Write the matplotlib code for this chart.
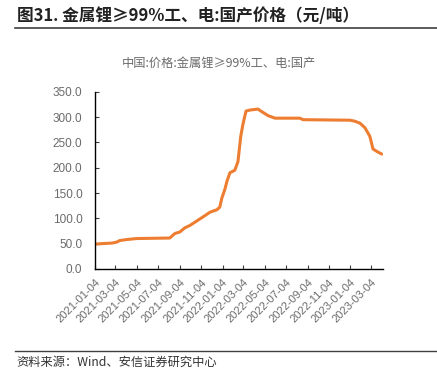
import matplotlib
matplotlib.use("Agg")
import matplotlib.pyplot as plt
import pandas as pd

plt.rcParams['font.family'] = ['Noto Sans CJK SC', 'DejaVu Sans']
num_font = ['Liberation Sans', 'Noto Sans CJK SC']

# price of lithium metal (10k yuan / t)
dates = ["2021-01-04", "2021-01-27", "2021-02-22", "2021-03-08", "2021-03-16",
         "2021-04-05", "2021-05-04", "2021-08-06", "2021-08-21", "2021-09-04",
         "2021-09-18", "2021-10-03", "2021-10-23", "2021-11-14", "2021-11-29",
         "2021-12-19", "2021-12-27", "2022-01-02", "2022-01-11", "2022-01-16",
         "2022-01-25", "2022-02-08", "2022-02-17", "2022-02-25", "2022-03-03",
         "2022-03-12", "2022-03-23", "2022-04-15", "2022-04-26", "2022-05-14",
         "2022-06-03", "2022-08-13", "2022-08-22", "2023-01-03", "2023-01-17",
         "2023-02-01", "2023-02-15", "2023-03-01", "2023-03-10", "2023-03-24",
         "2023-04-04"]
prices = [49, 50, 51, 53, 56,
          58, 60, 61, 70, 73,
          81, 86, 95, 105, 112,
          117, 122, 140, 158, 172,
          190, 195, 212, 262, 285,
          312, 314, 316, 311, 303,
          298, 298, 295, 294, 292,
          288, 279, 262, 237, 231,
          227]
tick_labels = ["2021-01-04", "2021-03-04", "2021-05-04", "2021-07-04", "2021-09-04",
               "2021-11-04", "2022-01-04", "2022-03-04", "2022-05-04", "2022-07-04",
               "2022-09-04", "2022-11-04", "2023-01-04", "2023-03-04"]
y_ticks = [0, 50, 100, 150, 200, 250, 300, 350]

header = "图31. 金属锂≥99%工、电:国产价格（元/吨）"
chart_title = "中国:价格:金属锂≥99%工、电:国产"
source = "资料来源：Wind、安信证券研究中心"

x = pd.to_datetime(dates)
ticks = pd.to_datetime(tick_labels)

fig = plt.figure(figsize=(4.37, 3.75), dpi=100)
ax = fig.add_axes([0.217, 0.283, 0.659, 0.472])

ax.plot(x, prices, color="#ED7D31", linewidth=2.2, solid_capstyle="round")

ax.set_xlim(x[0], x[-1] + pd.Timedelta(days=3))
ax.set_ylim(0, 350)
ax.set_yticks(y_ticks)
ax.set_yticklabels([f"{v:.1f}" for v in y_ticks], fontsize=8.5, color="#6b6b6b",
                   family=num_font)
ax.set_xticks(ticks)
ax.set_xticklabels(tick_labels, rotation=45, ha="right", rotation_mode="anchor",
                   fontsize=8, color="#6b6b6b", family=num_font)
ax.tick_params(axis="both", direction="in", length=3, width=0.8, color="#404040")
ax.tick_params(axis="y", pad=9)
ax.tick_params(axis="x", pad=6)
for s in ["top", "right"]:
    ax.spines[s].set_visible(False)
for s in ["left", "bottom"]:
    ax.spines[s].set_linewidth(1.0)
    ax.spines[s].set_color("black")

fig.text(0.5, 0.832, chart_title, ha="center", va="center", fontsize=8.8, color="#6b6b6b")

# header and footer
fig.text(0.038, 0.958, header, ha="left", va="center", fontsize=12, fontweight="bold",
         color="#222222")
fig.add_artist(plt.Line2D([0.035, 1.0], [0.925, 0.925], color="#404040", linewidth=1.2))
fig.add_artist(plt.Line2D([0.035, 1.0], [0.064, 0.064], color="#404040", linewidth=1.0))
fig.text(0.038, 0.035, source, ha="left", va="center", fontsize=8.8, color="#333333",
         style="italic")

fig.savefig("out.png", dpi=100)
